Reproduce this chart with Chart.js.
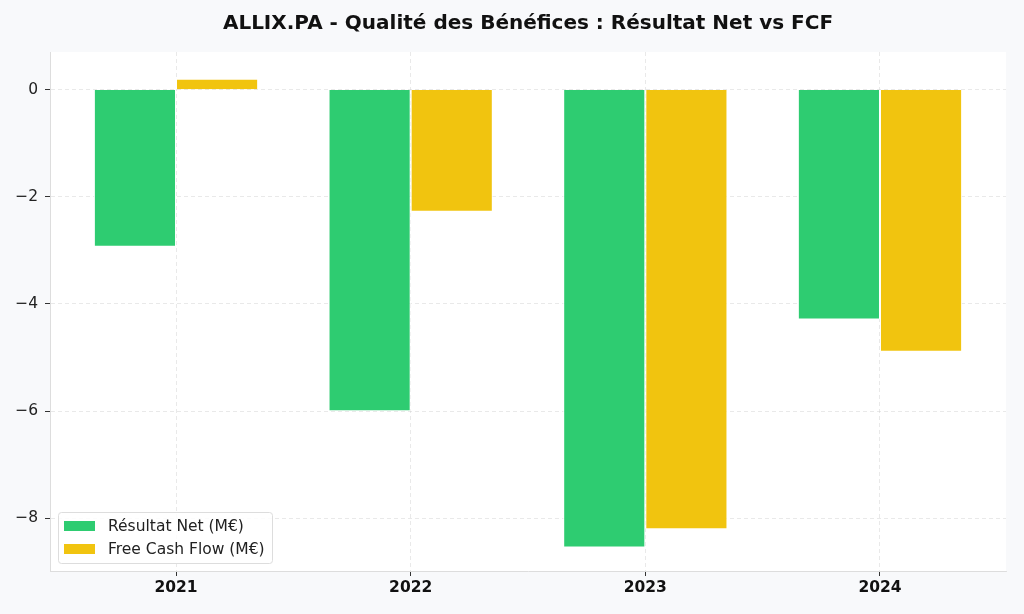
<!DOCTYPE html>
<html>
<head>
<meta charset="utf-8">
<script src="https://cdn.jsdelivr.net/npm/chart.js@4.4.1/dist/chart.umd.min.js"></script>
<style>
  html, body { margin: 0; padding: 0; background: #f8f9fb; }
  #wrap { width: 1024px; height: 614px; }
</style>
</head>
<body>
<div id="wrap"><canvas id="chart" width="1024" height="614"></canvas></div>
<script>
const years = ["2021", "2022", "2023", "2024"];
const netIncome = [-2.93, -6.0, -8.54, -4.29];
const freeCashFlow = [0.2, -2.28, -8.2, -4.89];
const yTicks = [-8, -6, -4, -2, 0];
const chartTitle = "ALLIX.PA - Qualité des Bénéfices : Résultat Net vs FCF";
const seriesNames = ["Résultat Net (M€)", "Free Cash Flow (M€)"];
const seriesColors = ["#2ecc71", "#f1c40f"];

const font = "'DejaVu Sans', sans-serif";

// page background + white plot area, then title and legend on top
const backdrop = {
  id: "backdrop",
  beforeDraw(chart) {
    const { ctx, chartArea: a } = chart;
    ctx.save();
    ctx.fillStyle = "#f8f9fb";
    ctx.fillRect(0, 0, chart.width, chart.height);
    ctx.fillStyle = "#ffffff";
    ctx.fillRect(a.left, a.top, a.right - a.left, a.bottom - a.top);
    ctx.restore();
  },
  afterDraw(chart) {
    const { ctx } = chart;
    ctx.save();
    ctx.fillStyle = "#111";
    ctx.font = "bold 20px " + font;
    ctx.textAlign = "center";
    ctx.textBaseline = "middle";
    ctx.fillText(chartTitle, 528, 24);

    // legend, lower left inside the plot
    const x = 58, y = 512, w = 214, h = 51;
    ctx.fillStyle = "rgba(255,255,255,0.85)";
    ctx.strokeStyle = "#dddddd";
    ctx.lineWidth = 1;
    ctx.beginPath();
    ctx.roundRect(x + 0.5, y + 0.5, w, h, 3);
    ctx.fill();
    ctx.stroke();
    ctx.font = "15.5px " + font;
    ctx.textAlign = "left";
    chart.data.datasets.forEach((ds, i) => {
      const cy = 526 + i * 23;
      ctx.fillStyle = ds.backgroundColor;
      ctx.fillRect(64, cy - 5, 31, 10);
      ctx.fillStyle = "#222";
      ctx.fillText(ds.label, 108, cy + 1);
    });
    ctx.restore();
  }
};

const gridStyle = {
  color: "rgba(200,200,200,0.5)",
  lineWidth: 0.8,
  tickColor: "#333",
  tickLength: 5,
  tickWidth: 1,
  tickBorderDash: [],
  offset: false
};
// in v4 border.dash is what dashes the grid lines
const borderStyle = { display: true, color: "#dddddd", width: 1, dash: [4, 3] };

new Chart(document.getElementById("chart"), {
  type: "bar",
  data: {
    datasets: [
      {
        label: seriesNames[0],
        data: years.map((y, i) => ({ x: i, y: netIncome[i] })),
        backgroundColor: seriesColors[0],
        borderColor: "#ffffff",
        borderWidth: 1
      },
      {
        label: seriesNames[1],
        data: years.map((y, i) => ({ x: i, y: freeCashFlow[i] })),
        backgroundColor: seriesColors[1],
        borderColor: "#ffffff",
        borderWidth: 1
      }
    ]
  },
  options: {
    responsive: false,
    animation: false,
    devicePixelRatio: 1,
    layout: { padding: { top: 52, right: 18, bottom: 0, left: 0 } },
    categoryPercentage: 0.7,
    barPercentage: 1.0,
    plugins: {
      legend: { display: false },
      tooltip: { enabled: false },
      title: { display: false }
    },
    scales: {
      x: {
        type: "linear",
        min: -0.537,
        max: 3.537,
        offset: false,
        z: 1,
        afterBuildTicks: (s) => { s.ticks = years.map((y, i) => ({ value: i })); },
        afterFit: (s) => { s.height = 43; },
        grid: gridStyle,
        border: borderStyle,
        ticks: {
          font: { family: font, size: 15.5, weight: "bold" },
          color: "#111",
          padding: 3,
          callback: (v) => years[v]
        }
      },
      y: {
        min: -8.98,
        max: 0.7,
        z: 1,
        afterBuildTicks: (s) => { s.ticks = yTicks.map((v) => ({ value: v })); },
        afterFit: (s) => { s.width = 50; },
        grid: gridStyle,
        border: borderStyle,
        ticks: {
          font: { family: font, size: 15.5 },
          color: "#222",
          padding: 7,
          callback: (v) => (v < 0 ? "\u2212" + Math.abs(v) : String(v))
        }
      }
    }
  },
  plugins: [backdrop]
});
</script>
</body>
</html>
